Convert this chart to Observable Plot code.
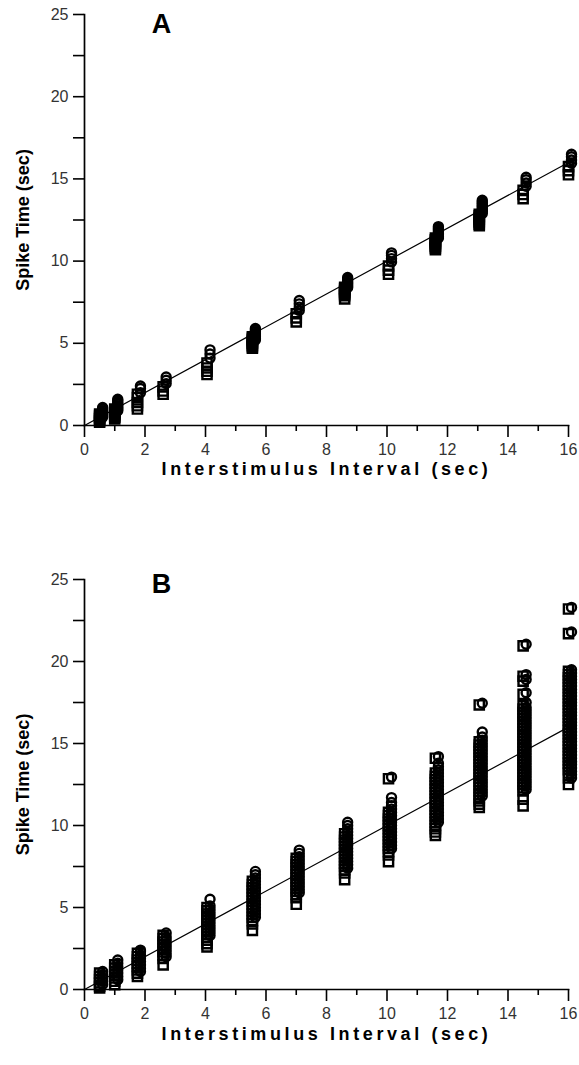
<!DOCTYPE html>
<html>
<head>
<meta charset="utf-8">
<script src="https://cdn.jsdelivr.net/npm/d3@7"></script>
<script src="https://cdn.jsdelivr.net/npm/@observablehq/plot@0.6"></script>
<style>
  body { margin: 0; background: #fff; }
  #chart { width: 579px; height: 1065px; overflow: hidden; }
  #chart svg { display: block; overflow: visible; }
</style>
</head>
<body>
<div id="chart"></div>
<script>
// Interstimulus intervals (sec) of the 13 conditions
const isi = [0.5, 1.0, 1.75, 2.6, 4.05, 5.55, 7.0, 8.6, 10.05, 11.6, 13.05, 14.5, 16.0];

// Panel A: spike times (sec), one list per interval
const aCircles = [
  [0.5, 0.6, 0.7, 0.8, 0.9, 1.0, 1.1],
  [0.9, 1.0, 1.1, 1.2, 1.3, 1.4, 1.5, 1.6],
  [2.0, 2.25, 2.4],
  [2.55, 2.75, 2.95],
  [4.1, 4.35, 4.6],
  [5.2, 5.3, 5.4, 5.5, 5.6, 5.7, 5.8, 5.9],
  [7.0, 7.2, 7.4, 7.6],
  [8.4, 8.5, 8.6, 8.7, 8.8, 8.9, 9.0],
  [9.95, 10.15, 10.35, 10.5],
  [11.4, 11.5, 11.6, 11.7, 11.8, 11.9, 12.0, 12.1],
  [12.9, 13.0, 13.1, 13.2, 13.3, 13.4, 13.5, 13.6, 13.7],
  [14.55, 14.75, 14.95, 15.1],
  [15.95, 16.15, 16.35, 16.5]
];
const aSquares = [
  [0.2, 0.3, 0.4, 0.5, 0.6, 0.7],
  [0.4, 0.5, 0.6, 0.7, 0.8, 0.9, 1.0],
  [1.0, 1.2, 1.4, 1.7, 1.9],
  [1.9, 2.1, 2.35],
  [3.1, 3.3, 3.5, 3.8],
  [4.7, 4.8, 4.9, 5.0, 5.1, 5.2, 5.3, 5.4],
  [6.3, 6.55, 6.8],
  [7.7, 7.9, 8.0, 8.1, 8.2, 8.3, 8.4],
  [9.2, 9.45, 9.7],
  [10.7, 10.8, 10.9, 11.0, 11.1, 11.2, 11.3, 11.4],
  [12.15, 12.25, 12.35, 12.45, 12.55, 12.65, 12.75, 12.85],
  [13.8, 14.05, 14.3],
  [15.25, 15.5, 15.75]
];

// Panel B: spike times (sec), one list per interval
const bCircles = [
  [0.3, 0.5, 0.7, 0.9, 1.1],
  [0.6, 0.8, 1.0, 1.2, 1.4, 1.6, 1.8],
  [1.1, 1.3, 1.5, 1.7, 1.9, 2.1, 2.3, 2.4],
  [2.0, 2.2, 2.4, 2.6, 2.8, 3.0, 3.2, 3.45],
  [3.3, 3.5, 3.7, 3.9, 4.1, 4.3, 4.5, 4.7, 4.9, 5.1, 5.5],
  [4.4, 4.6, 4.8, 5.0, 5.2, 5.4, 5.6, 5.8, 6.0, 6.2, 6.4, 6.6, 6.8, 7.0, 7.2],
  [5.9, 6.1, 6.3, 6.5, 6.7, 6.9, 7.1, 7.3, 7.5, 7.7, 7.9, 8.1, 8.3, 8.5],
  [7.4, 7.6, 7.8, 8.0, 8.2, 8.4, 8.6, 8.8, 9.0, 9.2, 9.4, 9.6, 9.8, 10.0, 10.2],
  [8.6, 8.8, 9.0, 9.2, 9.4, 9.6, 9.8, 10.0, 10.2, 10.4, 10.6, 10.8, 11.0, 11.2, 11.4, 11.7, 12.95],
  [10.2, 10.4, 10.6, 10.8, 11.0, 11.2, 11.4, 11.6, 11.8, 12.0, 12.2, 12.4, 12.6, 12.8, 13.0, 13.2, 13.4, 13.6, 13.8, 14.2],
  [11.8, 12.0, 12.2, 12.4, 12.6, 12.8, 13.0, 13.2, 13.4, 13.6, 13.8, 14.0, 14.2, 14.4, 14.6, 14.8, 15.0, 15.2, 15.4, 15.7, 17.45],
  [12.2, 12.4, 12.6, 12.8, 13.0, 13.2, 13.4, 13.6, 13.8, 14.0, 14.2, 14.4, 14.6, 14.8, 15.0, 15.2, 15.4, 15.6, 15.8, 16.0, 16.2, 16.4, 16.6, 16.8, 17.0, 17.2, 17.5, 18.1, 18.9, 19.2, 21.05],
  [12.9, 13.1, 13.3, 13.5, 13.7, 13.9, 14.1, 14.3, 14.5, 14.7, 14.9, 15.1, 15.3, 15.5, 15.7, 15.9, 16.1, 16.3, 16.5, 16.7, 16.9, 17.1, 17.3, 17.5, 17.7, 17.9, 18.1, 18.3, 18.5, 18.7, 18.9, 19.1, 19.3, 19.5, 21.8, 23.3]
];
const bSquares = [
  [0.1, 0.2, 0.4, 0.6, 0.8, 1.0],
  [0.3, 0.5, 0.7, 0.9, 1.1, 1.3, 1.5],
  [0.8, 1.0, 1.2, 1.4, 1.6, 1.8, 2.0, 2.2],
  [1.5, 1.9, 2.1, 2.3, 2.5, 2.7, 2.9, 3.1, 3.3],
  [2.6, 2.8, 3.0, 3.2, 3.4, 3.6, 3.8, 4.0, 4.2, 4.4, 4.6, 4.8, 5.0],
  [3.6, 4.0, 4.2, 4.4, 4.6, 4.8, 5.0, 5.2, 5.4, 5.6, 5.8, 6.0, 6.2, 6.4, 6.6],
  [5.2, 5.6, 5.8, 6.0, 6.2, 6.4, 6.6, 6.8, 7.0, 7.2, 7.4, 7.6, 7.8, 8.0],
  [6.7, 7.1, 7.3, 7.5, 7.7, 7.9, 8.1, 8.3, 8.5, 8.7, 8.9, 9.1, 9.3, 9.5],
  [7.8, 8.2, 8.4, 8.6, 8.8, 9.0, 9.2, 9.4, 9.6, 9.8, 10.0, 10.2, 10.4, 10.6, 10.8, 12.85],
  [9.4, 9.6, 9.8, 10.0, 10.2, 10.4, 10.6, 10.8, 11.0, 11.2, 11.4, 11.6, 11.8, 12.0, 12.2, 12.4, 12.6, 12.8, 13.0, 13.2, 14.1],
  [11.1, 11.3, 11.5, 11.7, 11.9, 12.1, 12.3, 12.5, 12.7, 12.9, 13.1, 13.3, 13.5, 13.7, 13.9, 14.1, 14.3, 14.5, 14.7, 14.9, 15.1, 17.35],
  [11.2, 11.6, 12.1, 12.3, 12.5, 12.7, 12.9, 13.1, 13.3, 13.5, 13.7, 13.9, 14.1, 14.3, 14.5, 14.7, 14.9, 15.1, 15.3, 15.5, 15.7, 15.9, 16.1, 16.3, 16.5, 16.7, 16.9, 17.1, 17.3, 18.0, 18.8, 19.1, 20.95],
  [12.5, 12.9, 13.2, 13.4, 13.6, 13.8, 14.0, 14.2, 14.4, 14.6, 14.8, 15.0, 15.2, 15.4, 15.6, 15.8, 16.0, 16.2, 16.4, 16.6, 16.8, 17.0, 17.2, 17.4, 17.6, 17.8, 18.0, 18.2, 18.4, 18.6, 18.8, 19.0, 19.2, 19.4, 21.7, 23.2]
];

// Identity line (spike time = interstimulus interval)
const identity = [0, 16];

// Axes
const xDomain = [0, 16];
const yDomain = [0, 25];
const xMajor = [0, 2, 4, 6, 8, 10, 12, 14, 16];
const xMinor = [1, 3, 5, 7, 9, 11, 13, 15];
const yMajor = [0, 5, 10, 15, 20, 25];
const yMinor = [2.5, 7.5, 12.5, 17.5, 22.5];
const xLabel = "Interstimulus Interval (sec)";
const yLabel = "Spike Time (sec)";
const panelLetters = ["A", "B"];

const FONT = "'Liberation Sans', Arial, Helvetica, sans-serif";

function points(groups) {
  return groups.flatMap((times, i) => times.map(t => ({isi: isi[i], t})));
}

function panel(circles, squares, letter, o) {
  return Plot.plot({
    width: 579,
    height: o.height,
    marginLeft: 84,
    marginRight: 11,
    marginTop: o.top,
    marginBottom: o.bottom,
    style: {fontFamily: FONT, background: "#fff", color: "#000"},
    x: {domain: xDomain},
    y: {domain: yDomain},
    marks: [
      Plot.line(identity, {x: d => d, y: d => d, stroke: "#000", strokeWidth: 1.2}),
      Plot.dot(points(squares), {x: "isi", y: "t", symbol: "square", r: 5.2, fill: "none", stroke: "#000", strokeWidth: 2.4, dx: 0}),
      Plot.dot(points(circles), {x: "isi", y: "t", symbol: "circle", r: 4.5, fill: "none", stroke: "#000", strokeWidth: 2.4, dx: 3}),
      Plot.frame({anchor: "left", stroke: "#000", strokeWidth: 1.7}),
      Plot.frame({anchor: "bottom", stroke: "#000", strokeWidth: 1.7}),
      Plot.axisY(yMajor, {tickSize: 11, tickPadding: 5, fontSize: 16, label: null, stroke: "#000", strokeWidth: 1.6, fill: "#333"}),
      Plot.axisY(yMinor, {tickSize: 11, tickFormat: () => "", label: null, stroke: "#000", strokeWidth: 1.6}),
      Plot.axisX(xMajor, {tickSize: 12, tickPadding: 6, fontSize: 16, label: null, stroke: "#000", strokeWidth: 1.6, fill: "#333"}),
      Plot.axisX(xMinor, {tickSize: 6, tickFormat: () => "", label: null, stroke: "#000", strokeWidth: 1.6}),
      Plot.text([yLabel], {frameAnchor: "left", dx: -61, rotate: -90, fontSize: 18, fontWeight: "bold", textAnchor: "middle", lineAnchor: "middle", fill: "#000"}),
      Plot.text([xLabel], {frameAnchor: "bottom", dy: o.xlabDy, fontSize: 18, fontWeight: "bold", textAnchor: "middle", lineAnchor: "middle", fill: "#000"}),
      Plot.text([letter], {frameAnchor: "top-left", dx: 77, dy: o.letterDy, fontSize: 27, fontWeight: "bold", textAnchor: "middle", lineAnchor: "middle", fill: "#000"})
    ]
  });
}

const chart = document.getElementById("chart");
const pa = panel(aCircles, aSquares, panelLetters[0], {height: 500, top: 14, bottom: 75, xlabDy: 44, letterDy: 10});
const pb = panel(bCircles, bSquares, panelLetters[1], {height: 565, top: 79, bottom: 76, xlabDy: 45, letterDy: 5});
chart.appendChild(pa);
chart.appendChild(pb);
// wide letter spacing of the x titles, as in the original
chart.querySelectorAll("text").forEach(t => {
  if (t.textContent === xLabel) t.setAttribute("letter-spacing", "3.6");
});
</script>
</body>
</html>
